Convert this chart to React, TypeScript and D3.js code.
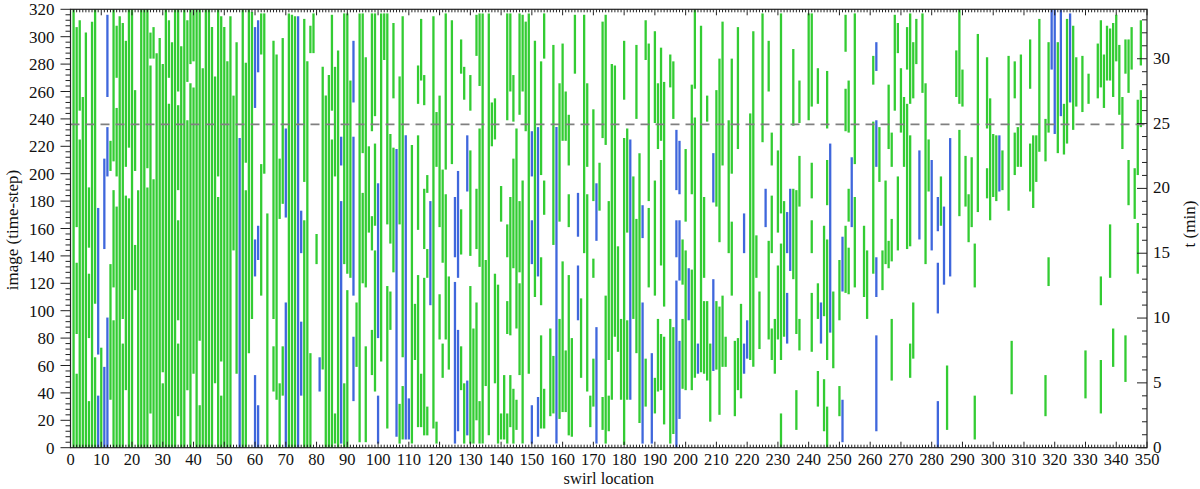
import * as d3 from "d3";

const W = 1200;
const H = 489;
const margin = { left: 70.5, right: 53, top: 9.3, bottom: 41.3 };

const locTicks = [0, 10, 20, 30, 40, 50, 60, 70, 80, 90, 100, 110, 120, 130, 140, 150, 160, 170, 180, 190, 200, 210, 220, 230, 240, 250, 260, 270, 280, 290, 300, 310, 320, 330, 340, 350];
const imageTicks = [0, 20, 40, 60, 80, 100, 120, 140, 160, 180, 200, 220, 240, 260, 280, 300, 320];
const minuteTicks = [0, 5, 10, 15, 20, 25, 30];
const secondsPerImage = 6.34;
const markerImage = 236;

// [swirl location, first image, last image]
type Track = [number, number, number];

const greenTracks: Track[] = [
  [1, 0, 320], [2, 161, 307], [2, 83, 135], [2, 0, 54], [3, 246, 312], [3, 0, 225], [4, 0, 256], [5, 0, 303],
  [6, 146, 190], [6, 80, 127], [6, 0, 34], [7, 0, 311], [8, 105, 320], [8, 0, 66], [10, 0, 73],
  [13, 202, 224], [13, 35, 134], [14, 209, 320], [14, 117, 188], [14, 0, 93], [15, 270, 308], [15, 198, 248], [15, 0, 176],
  [16, 0, 315], [17, 94, 310], [17, 0, 76], [18, 205, 297], [18, 42, 184], [19, 219, 320], [19, 0, 182], [20, 0, 320],
  [21, 202, 261], [21, 115, 148], [22, 0, 188], [23, 0, 320], [24, 0, 320], [25, 204, 320], [25, 0, 190],
  [26, 284, 303], [26, 25, 279], [27, 284, 307], [27, 0, 196], [28, 0, 288], [29, 0, 299], [30, 55, 280], [30, 0, 47],
  [31, 0, 320], [32, 270, 312], [32, 0, 251], [33, 0, 296], [34, 0, 320], [35, 260, 320], [35, 188, 250], [35, 93, 166], [35, 23, 76],
  [36, 0, 293], [37, 0, 320], [38, 267, 312], [38, 42, 239], [39, 280, 320], [39, 0, 266], [40, 282, 320], [40, 54, 263],
  [41, 0, 320], [42, 78, 320], [42, 0, 31], [43, 0, 277], [44, 0, 320], [45, 0, 320], [46, 0, 307], [47, 47, 271],
  [48, 198, 320], [48, 0, 183], [49, 63, 315], [49, 0, 38], [50, 0, 307], [51, 0, 282], [52, 0, 315], [53, 144, 257],
  [54, 54, 296], [56, 0, 320], [57, 208, 281], [57, 0, 188], [58, 69, 320], [59, 94, 318],
  [62, 287, 317], [62, 111, 207], [63, 200, 317], [64, 0, 171], [66, 94, 297], [66, 41, 74], [67, 35, 287],
  [68, 167, 211], [68, 0, 47], [69, 178, 299], [69, 38, 74], [71, 0, 317], [72, 0, 316], [73, 0, 315],
  [76, 194, 313], [76, 0, 166], [77, 0, 282], [78, 288, 308], [78, 0, 69], [79, 288, 317], [80, 134, 156],
  [82, 57, 278], [83, 0, 257], [84, 0, 272], [85, 246, 316], [85, 0, 225], [86, 198, 278], [86, 3, 25], [87, 0, 290],
  [89, 134, 317], [89, 0, 47], [90, 127, 317], [90, 0, 115], [91, 124, 268], [93, 59, 106], [94, 4, 317],
  [95, 215, 317], [95, 120, 186], [96, 117, 285], [96, 4, 74], [97, 157, 220], [98, 231, 317], [98, 144, 169], [98, 53, 86],
  [99, 242, 317], [99, 162, 222], [99, 41, 144], [101, 63, 317], [102, 283, 317], [103, 163, 317], [103, 14, 118],
  [104, 149, 229], [104, 86, 114], [105, 255, 310], [105, 128, 219], [107, 163, 271], [107, 3, 32], [108, 66, 315], [108, 6, 45],
  [111, 3, 221], [112, 64, 105], [113, 251, 279], [113, 159, 228], [113, 15, 126], [114, 268, 313], [114, 15, 54],
  [115, 250, 272], [115, 145, 189], [115, 9, 124], [116, 186, 199], [116, 124, 145], [116, 9, 30], [118, 14, 315],
  [119, 205, 245], [119, 3, 19], [120, 161, 257], [120, 79, 112], [121, 135, 203], [121, 51, 76], [122, 203, 317], [122, 79, 185],
  [123, 57, 125], [124, 207, 312], [127, 273, 298], [127, 141, 174], [127, 42, 74], [128, 254, 278], [128, 3, 47],
  [130, 246, 272], [130, 140, 217], [130, 3, 118], [131, 3, 87], [132, 286, 316], [132, 145, 189], [132, 20, 106],
  [133, 264, 317], [133, 132, 233], [133, 3, 34], [134, 3, 317], [135, 45, 137], [136, 9, 317], [137, 220, 252],
  [138, 225, 255], [138, 47, 127], [139, 3, 119], [140, 165, 191], [140, 6, 25], [141, 6, 53],
  [142, 239, 317], [142, 139, 163], [142, 83, 107], [142, 3, 25], [143, 260, 317], [143, 82, 183], [143, 15, 53],
  [144, 238, 272], [144, 131, 211], [144, 3, 43], [145, 87, 233], [145, 13, 35], [146, 243, 317], [146, 128, 180], [146, 53, 120],
  [147, 260, 316], [147, 3, 195], [148, 231, 311], [149, 54, 317], [151, 110, 297], [153, 199, 282], [153, 104, 139], [153, 14, 82],
  [154, 284, 317], [154, 170, 195], [154, 14, 43], [156, 23, 87], [157, 148, 294], [157, 25, 67], [159, 165, 266], [159, 21, 94],
  [160, 224, 295], [160, 26, 136], [161, 224, 260], [161, 26, 71], [162, 206, 243], [162, 161, 185], [162, 9, 126],
  [163, 8, 80], [164, 273, 316], [166, 51, 109], [167, 142, 316], [168, 205, 266], [168, 41, 185], [169, 15, 38],
  [170, 180, 247], [170, 124, 138], [170, 30, 65], [172, 173, 208], [173, 226, 311], [173, 13, 37], [174, 221, 316], [174, 3, 111],
  [175, 64, 180], [175, 12, 38], [176, 35, 280], [177, 81, 279], [178, 70, 147], [179, 35, 94], [180, 254, 297], [180, 2, 226],
  [181, 157, 233], [181, 35, 93], [183, 94, 198], [184, 240, 294], [184, 69, 167], [185, 18, 215], [187, 283, 312], [187, 30, 65],
  [188, 180, 295], [188, 117, 175], [190, 237, 304], [190, 111, 195], [190, 25, 51], [191, 218, 266], [191, 41, 94],
  [192, 224, 292], [192, 133, 210], [192, 42, 83], [193, 103, 267], [193, 17, 81], [195, 263, 287], [195, 3, 94],
  [196, 240, 282], [196, 10, 88], [199, 119, 152], [199, 43, 94], [200, 165, 218], [200, 42, 144], [202, 185, 265], [202, 42, 130],
  [203, 262, 320], [203, 51, 241], [205, 55, 308], [206, 124, 183], [206, 54, 107], [207, 238, 257], [207, 49, 107], [208, 19, 76],
  [210, 176, 261], [210, 57, 107], [211, 150, 284], [211, 24, 103], [212, 206, 311], [212, 59, 111], [213, 59, 81], [214, 142, 239],
  [215, 200, 284], [215, 111, 165], [216, 23, 78], [217, 218, 307], [217, 42, 80], [218, 36, 105], [221, 64, 244], [222, 59, 304],
  [223, 124, 155], [224, 72, 114], [225, 223, 317], [227, 260, 297], [227, 79, 151], [228, 206, 230], [228, 142, 184], [228, 64, 87],
  [229, 54, 94], [230, 157, 217], [230, 79, 133], [231, 171, 317], [231, 64, 149], [231, 0, 25], [232, 81, 180],
  [235, 235, 291], [235, 123, 189], [236, 83, 188], [236, 13, 42], [237, 237, 268], [237, 176, 213], [237, 71, 94], [240, 239, 317],
  [241, 249, 317], [241, 182, 208], [241, 142, 166], [241, 70, 113], [243, 251, 277], [243, 94, 120], [243, 30, 56],
  [245, 96, 162], [245, 12, 50], [246, 233, 275], [246, 177, 210], [246, 64, 152], [246, 0, 30], [248, 58, 114],
  [250, 93, 137], [250, 23, 45], [252, 289, 316], [252, 231, 262], [252, 113, 162], [253, 230, 268], [253, 165, 189], [253, 112, 146],
  [255, 207, 317], [255, 117, 183], [258, 110, 162], [259, 94, 144], [261, 265, 286], [261, 127, 238], [263, 194, 234],
  [264, 115, 144], [265, 134, 195], [266, 218, 265], [266, 131, 151], [267, 205, 230], [267, 136, 167], [267, 49, 94],
  [268, 246, 316], [269, 288, 310], [269, 144, 198], [270, 230, 277], [271, 205, 256], [272, 276, 307], [272, 145, 251],
  [273, 251, 317], [273, 147, 228], [273, 51, 76], [274, 255, 296], [274, 65, 106], [275, 280, 313], [277, 259, 317],
  [278, 134, 266], [279, 187, 225], [283, 162, 198], [285, 13, 60], [288, 256, 290], [289, 251, 320], [289, 169, 232],
  [290, 249, 276], [291, 176, 213], [292, 150, 185], [293, 161, 212], [294, 117, 149], [294, 6, 38], [295, 172, 302],
  [298, 233, 285], [298, 182, 204], [299, 166, 255], [300, 183, 229], [301, 180, 228], [303, 188, 217], [305, 173, 286],
  [306, 39, 78], [307, 255, 282], [307, 199, 230], [308, 205, 234], [309, 205, 287], [312, 262, 298], [312, 187, 222],
  [313, 175, 228], [314, 194, 228], [315, 216, 313], [317, 209, 240], [317, 23, 53], [318, 230, 296], [318, 118, 139],
  [321, 215, 296], [323, 214, 251], [324, 222, 313], [326, 232, 308], [327, 249, 285], [329, 245, 286], [330, 36, 71],
  [331, 251, 273], [334, 255, 295], [335, 263, 312], [335, 104, 125], [335, 25, 64], [336, 248, 287], [337, 268, 308],
  [338, 268, 306], [338, 124, 163], [339, 256, 310], [339, 59, 87], [340, 282, 316], [341, 243, 294], [342, 218, 256],
  [343, 273, 298], [343, 48, 82], [344, 259, 298], [344, 177, 210], [345, 276, 307], [346, 167, 204], [347, 199, 254], [347, 127, 164],
  [348, 279, 312], [348, 234, 261],
];

const blueTracks: Track[] = [
  [9, 68, 175], [9, 0, 38], [11, 145, 211], [11, 0, 59], [12, 256, 316], [12, 198, 234], [12, 0, 95], [55, 0, 226],
  [60, 248, 307], [60, 125, 152], [60, 0, 53], [61, 274, 312], [61, 137, 162], [61, 0, 31], [70, 168, 233], [70, 0, 106],
  [74, 0, 315], [75, 142, 173], [75, 38, 92], [81, 41, 66], [88, 206, 227], [88, 3, 180], [92, 252, 297], [92, 111, 227], [92, 34, 81],
  [100, 80, 193], [100, 3, 38], [106, 8, 218], [109, 6, 228], [110, 6, 36], [117, 104, 180], [125, 139, 183], [125, 3, 121],
  [126, 124, 202], [126, 12, 86], [129, 187, 228], [129, 9, 49], [150, 198, 231], [150, 134, 166], [150, 3, 31],
  [152, 125, 234], [152, 8, 37], [158, 3, 234], [165, 154, 186], [165, 93, 133], [171, 151, 193], [171, 3, 88], [182, 35, 225],
  [186, 153, 177], [186, 3, 106], [189, 3, 69], [197, 188, 232], [197, 139, 166], [197, 0, 122], [198, 185, 224], [198, 122, 166], [198, 21, 78],
  [201, 93, 131], [204, 54, 76], [209, 179, 215], [209, 56, 123], [219, 142, 171], [219, 54, 76], [220, 65, 93], [226, 161, 189],
  [233, 142, 172], [233, 76, 113], [234, 129, 189], [244, 76, 106], [247, 84, 222], [251, 114, 154], [251, 4, 35], [254, 161, 212],
  [262, 275, 296], [262, 205, 239], [262, 110, 139], [262, 12, 82], [276, 152, 217], [280, 144, 210], [282, 158, 183], [282, 98, 135], [282, 0, 34],
  [284, 119, 176], [286, 125, 226], [302, 187, 228], [319, 276, 320], [320, 229, 320], [322, 242, 320], [325, 252, 317],
];

const font = "'Liberation Serif', 'Times New Roman', serif";

export default function App() {
  const x = d3.scaleLinear().domain([0, 350]).range([margin.left, W - margin.right]);
  const y = d3.scaleLinear().domain([0, 320]).range([H - margin.bottom, margin.top]);
  const yMin = d3.scaleLinear().domain([0, (320 * secondsPerImage) / 60]).range(y.range());
  const [x0, x1] = x.range();
  const [yb, yt] = y.range();

  // minor tick positions
  const minorLoc = d3.range(0, 351, 1).filter((d) => d % 10 !== 0);
  const minorImg = d3.range(0, 321, 4).filter((d) => d % 20 !== 0);
  const minorMin = d3.range(0, 34, 1).filter((d) => d % 5 !== 0);

  const track = (color: string) => (d: Track, i: number) => (
    <line key={color + i} x1={x(d[0])} x2={x(d[0])} y1={y(d[1])} y2={y(d[2])} stroke={color} strokeWidth={2.3} />
  );

  return (
    <svg width={W} height={H} style={{ position: "absolute", left: 0, top: 0, background: "#fff" }} fontFamily={font}>
      <rect x={0} y={0} width={W} height={H} fill="#fff" />
      <g>{greenTracks.map(track("#33cc33"))}</g>
      <g>{blueTracks.map(track("#3f67dc"))}</g>
      <line x1={x0} x2={x1} y1={y(markerImage)} y2={y(markerImage)} stroke="#808080" strokeWidth={1.8} strokeDasharray="9,6" />

      {/* frame */}
      <rect x={x0} y={yt} width={x1 - x0} height={yb - yt} fill="none" stroke="#222" strokeWidth={1.2} />

      {/* ticks on all four sides */}
      <g stroke="#222" strokeWidth={1}>
        {minorLoc.map((d) => (
          <g key={"ml" + d}>
            <line x1={x(d)} x2={x(d)} y1={yb} y2={yb - 3} />
            <line x1={x(d)} x2={x(d)} y1={yt} y2={yt + 3} />
          </g>
        ))}
        {locTicks.map((d) => (
          <g key={"Ml" + d}>
            <line x1={x(d)} x2={x(d)} y1={yb} y2={yb - 6} />
            <line x1={x(d)} x2={x(d)} y1={yt} y2={yt + 6} />
          </g>
        ))}
        {minorImg.map((d) => (
          <line key={"mi" + d} x1={x0} x2={x0 - 5} y1={y(d)} y2={y(d)} />
        ))}
        {imageTicks.map((d) => (
          <line key={"Mi" + d} x1={x0} x2={x0 - 10} y1={y(d)} y2={y(d)} />
        ))}
        {minorMin.map((d) => (
          <line key={"mm" + d} x1={x1} x2={x1 - 5} y1={yMin(d)} y2={yMin(d)} />
        ))}
        {minuteTicks.map((d) => (
          <line key={"Mm" + d} x1={x1} x2={x1 - 10} y1={yMin(d)} y2={yMin(d)} />
        ))}
      </g>

      <g fill="#111">
        <g fontSize={16.5}>
          {locTicks.map((d) => (
            <text key={"tl" + d} x={x(d)} y={yb + 17.5} textAnchor="middle">{d}</text>
          ))}
        </g>
        <g fontSize={17}>
          {imageTicks.map((d) => (
            <text key={"ti" + d} x={x0 - 16} y={y(d) + 6} textAnchor="end">{d}</text>
          ))}
          {minuteTicks.map((d) => (
            <text key={"tm" + d} x={x1 + 6} y={yMin(d) + 5} textAnchor="start">{d}</text>
          ))}
        </g>
        <g fontSize={16.5}>
          <text x={(x0 + x1) / 2} y={484} textAnchor="middle">swirl location</text>
        </g>
        <g fontSize={17}>
          <text transform={`translate(18,230) rotate(-90)`} textAnchor="middle">image (time-step)</text>
          <text transform={`translate(1195,224) rotate(-90)`} textAnchor="middle">t (min)</text>
        </g>
      </g>
    </svg>
  );
}
